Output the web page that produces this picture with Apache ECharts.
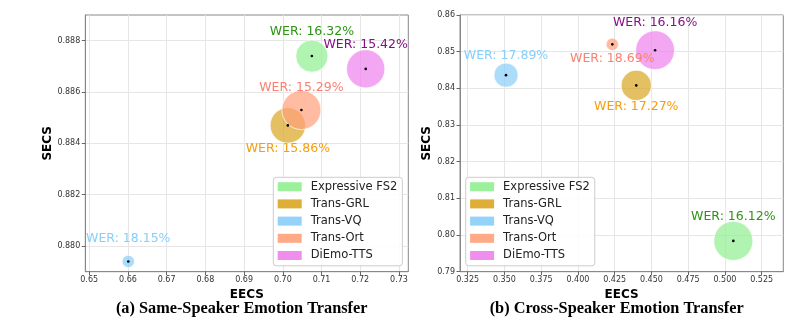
<!DOCTYPE html>
<html>
<head>
<meta charset="utf-8">
<script src="https://cdn.jsdelivr.net/npm/echarts@6/dist/echarts.min.js"></script>
<style>
html, body { margin: 0; padding: 0; background: #fff; }
#chart { width: 806px; height: 323px; }
</style>
</head>
<body>
<div id="chart"></div>
<script>
// Models compared in both panels (legend order)
const models = ['Expressive FS2', 'Trans-GRL', 'Trans-VQ', 'Trans-Ort', 'DiEmo-TTS'];

// (a) Same-speaker emotion transfer
const sameEECS = [0.7075, 0.7013, 0.6601, 0.7048, 0.7214];
const sameSECS = [0.8874, 0.8847, 0.8794, 0.8853, 0.8869];
const sameWER  = [16.32, 15.86, 18.15, 15.29, 15.42];

// (b) Cross-speaker emotion transfer
const crossEECS = [0.5057, 0.4397, 0.3511, 0.4234, 0.4525];
const crossSECS = [0.7984, 0.8408, 0.8436, 0.8520, 0.8504];
const crossWER  = [16.12, 17.27, 17.89, 18.69, 16.16];

// Tick labels
const sameEECSTicks  = [0.65, 0.66, 0.67, 0.68, 0.69, 0.70, 0.71, 0.72, 0.73];
const sameSECSTicks  = [0.880, 0.882, 0.884, 0.886, 0.888];
const crossEECSTicks = [0.325, 0.350, 0.375, 0.400, 0.425, 0.450, 0.475, 0.500, 0.525];
const crossSECSTicks = [0.79, 0.80, 0.81, 0.82, 0.83, 0.84, 0.85, 0.86];

// Styling
const fillColors  = ['#90EE90', '#DAA520', '#87CEFA', '#FFA07A', '#EE82EE'];
const labelColors = ['#2a9612', '#f59d0e', '#87CEFA', '#FA8072', '#870f87'];
// vertical label offsets (px) from each bubble centre, per panel
const labelShift = [
  [-24, 23.5, -22.7, -22.5, -24.3],
  [-24.3, 21.4, -19, 14.4, -27]
];
const SANS = 'DejaVu Sans';

function panelSeries(idx, eecs, secs, wer) {
  // bubble area grows as WER drops, normalised within the panel
  const hi = Math.max(...wer), lo = Math.min(...wer);
  const diameter = w => Math.sqrt(155 + 1375 * (hi - w) / (hi - lo));
  const out = models.map((m, i) => ({
    type: 'scatter', name: m, xAxisIndex: idx, yAxisIndex: idx, z: 2,
    clip: false, silent: true,
    data: [[eecs[i], secs[i], wer[i]]],
    symbolSize: v => diameter(v[2]),
    itemStyle: { color: fillColors[i], opacity: 0.7, borderColor: '#ffffff', borderWidth: 1 },
    emphasis: { disabled: true }
  }));
  // centre dots carrying the WER labels
  out.push({
    type: 'scatter', name: 'centres-' + idx, xAxisIndex: idx, yAxisIndex: idx, z: 5,
    clip: false, silent: true,
    symbolSize: 2.6,
    itemStyle: { color: '#000', opacity: 1 },
    label: { show: true, position: 'inside', fontFamily: SANS, fontSize: 12.5 },
    data: models.map((m, i) => ({
      value: [eecs[i], secs[i], wer[i]],
      label: {
        offset: [0, labelShift[idx][i]],
        color: labelColors[i],
        formatter: p => 'WER: ' + p.value[2].toFixed(2) + '%'
      }
    })),
    emphasis: { disabled: true }
  });
  return out;
}

function valueAxis(opts) {
  return Object.assign({
    type: 'value',
    nameLocation: 'middle',
    nameTextStyle: { fontFamily: SANS, fontWeight: 'bold', fontSize: 12, color: '#000' },
    axisLine: { show: true, lineStyle: { color: '#888', width: 1 } },
    axisTick: { show: true, length: 3.5, lineStyle: { color: '#666' } },
    splitLine: { show: true, lineStyle: { color: '#e6e6e6', width: 1 } },
    minorTick: { show: false },
    minorSplitLine: { show: false }
  }, opts);
}

function axisLabel(ticks, digits, margin) {
  return {
    customValues: ticks,
    fontFamily: SANS, fontSize: 8, color: '#333', margin: margin,
    formatter: v => Number(v).toFixed(digits)
  };
}

function legend(left) {
  return {
    left: left, top: 177.3,
    orient: 'vertical',
    icon: 'rect',
    itemWidth: 24, itemHeight: 9, itemGap: 3.2,
    padding: [2.4, 5, 3.3, 4.4],
    selectedMode: false,
    backgroundColor: 'rgba(255,255,255,0.85)',
    borderColor: '#cccccc', borderWidth: 1, borderRadius: 3,
    textStyle: { fontFamily: SANS, fontSize: 11.5, color: '#222', lineHeight: 14, padding: [0, 0, 0, 4] },
    data: models.map((m, i) => ({
      name: m,
      itemStyle: { color: fillColors[i], opacity: 0.9, borderWidth: 0 }
    })),
    z: 10
  };
}

const chart = echarts.init(document.getElementById('chart'), null, { renderer: 'canvas' });

chart.setOption({
  animation: false,
  backgroundColor: '#ffffff',
  grid: [
    { left: 85.3, top: 15, width: 323, height: 256.7, show: true, borderColor: '#888', borderWidth: 1, backgroundColor: '#fff' },
    { left: 460, top: 15, width: 323.3, height: 256.7, show: true, borderColor: '#888', borderWidth: 1, backgroundColor: '#fff' }
  ],
  xAxis: [
    valueAxis({ gridIndex: 0, name: 'EECS', nameGap: 13, min: 0.649, max: 0.7324,
      minInterval: 0.01, maxInterval: 0.01,
      axisTick: { show: true, length: 3.5, customValues: sameEECSTicks, lineStyle: { color: '#666' } },
      axisLabel: axisLabel(sameEECSTicks, 2, 4) }),
    valueAxis({ gridIndex: 1, name: 'EECS', nameGap: 13, min: 0.3198, max: 0.5397,
      minInterval: 0.025, maxInterval: 0.025,
      axisTick: { show: true, length: 3.5, customValues: crossEECSTicks, lineStyle: { color: '#666' } },
      axisLabel: axisLabel(crossEECSTicks, 3, 4) })
  ],
  yAxis: [
    valueAxis({ gridIndex: 0, name: 'SECS', nameGap: 28, nameRotate: 90, min: 0.879, max: 0.889,
      minInterval: 0.002, maxInterval: 0.002,
      axisTick: { show: true, length: 3.5, customValues: sameSECSTicks, lineStyle: { color: '#666' } },
      axisLabel: axisLabel(sameSECSTicks, 3, 5) }),
    valueAxis({ gridIndex: 1, name: 'SECS', nameGap: 24.7, nameRotate: 90, min: 0.79, max: 0.86,
      minInterval: 0.01, maxInterval: 0.01,
      axisTick: { show: true, length: 3.5, customValues: crossSECSTicks, lineStyle: { color: '#666' } },
      axisLabel: axisLabel(crossSECSTicks, 2, 5) })
  ],
  legend: [legend(273.3), legend(465.7)],
  graphic: [
    { type: 'text', x: 241.7, y: 309, z: 20,
      style: { text: '(a) Same-Speaker Emotion Transfer', align: 'center', verticalAlign: 'middle',
        fontFamily: 'Liberation Serif', fontWeight: 'bold', fontSize: 16.3, fill: '#000' } },
    { type: 'text', x: 616.7, y: 309, z: 20,
      style: { text: '(b) Cross-Speaker Emotion Transfer', align: 'center', verticalAlign: 'middle',
        fontFamily: 'Liberation Serif', fontWeight: 'bold', fontSize: 16.3, fill: '#000' } }
  ],
  series: [
    ...panelSeries(0, sameEECS, sameSECS, sameWER),
    ...panelSeries(1, crossEECS, crossSECS, crossWER)
  ]
});
</script>
</body>
</html>
